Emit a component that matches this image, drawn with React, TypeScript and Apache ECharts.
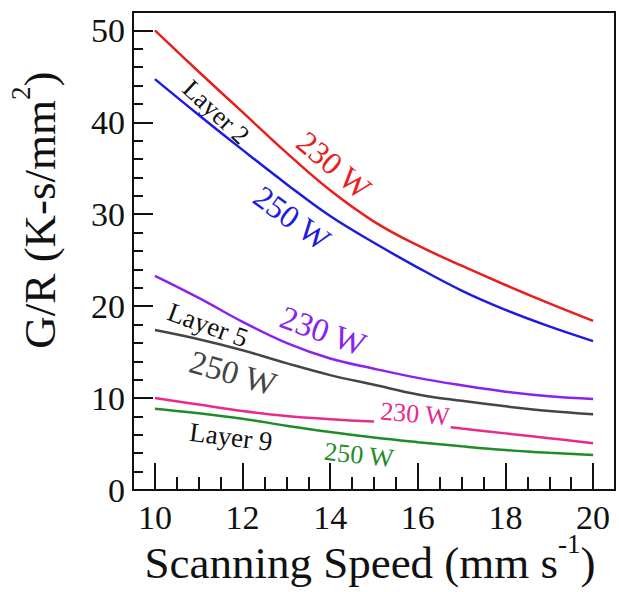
import React, { useEffect, useRef } from "react";
import * as echarts from "echarts";

const SPEED = [10, 11, 12, 13, 14, 15, 16, 17, 18, 19, 20];
const L2_230W = [50, 45.5, 41.1, 36.7, 32.6, 29.2, 26.6, 24.4, 22.3, 20.3, 18.4];
const L2_250W = [44.7, 40.8, 37.0, 33.3, 29.8, 26.9, 24.2, 21.7, 19.6, 17.8, 16.2];
const L5_230W = [23.3, 20.9, 18.3, 16.0, 14.3, 13.2, 12.2, 11.4, 10.7, 10.2, 9.9];
const L5_250W = [17.4, 16.4, 15.2, 13.8, 12.5, 11.45, 10.4, 9.7, 9.1, 8.6, 8.25];
const L9_250W = [8.85, 8.35, 7.75, 7.0, 6.3, 5.7, 5.2, 4.75, 4.35, 4.05, 3.82];
const L9_230W_A_X = [10, 11, 12, 13, 14, 15];
const L9_230W_A = [10.0, 9.3, 8.6, 8.05, 7.7, 7.45];
const L9_230W_B_X = [16.75, 17, 18, 19, 20];
const L9_230W_B = [6.83, 6.69, 6.16, 5.63, 5.09];

const X_MAJOR = [10, 12, 14, 16, 18, 20];
const X_MINOR = [9.5, 10.5, 11, 11.5, 12.5, 13, 13.5, 14.5, 15, 15.5, 16.5, 17, 17.5, 18.5, 19, 19.5, 20.5];
const Y_MAJOR = [0, 10, 20, 30, 40, 50];
const Y_MINOR = [2, 4, 6, 8, 12, 14, 16, 18, 22, 24, 26, 28, 32, 34, 36, 38, 42, 44, 46, 48];

const FONT = "Liberation Serif, Times New Roman, Times, serif";

const pair = (xs: number[], ys: number[]) => xs.map((x, i) => [x, ys[i]]);

export default function App() {
  const ref = useRef<HTMLDivElement>(null);
  useEffect(() => {
    if (!ref.current) return;
    const chart = echarts.init(ref.current, undefined, { renderer: "svg" });
    const line = (name: string, data: number[][], color: string) => ({
      name,
      type: "line",
      data,
      smooth: 0.4,
      symbol: "none",
      lineStyle: { color, width: 2.5 },
      xAxisIndex: 0,
      yAxisIndex: 0,
    });
    const label = (text: string, x: number, y: number, deg: number, size: number, color: string) => ({
      type: "text",
      x,
      y,
      rotation: (deg * Math.PI) / 180,
      style: {
        text,
        fill: color,
        fontFamily: FONT,
        fontSize: size,
        align: "center",
        verticalAlign: "middle",
      },
    });
    const baseX = {
      type: "value",
      min: 9.5,
      max: 20.5,
      splitLine: { show: false },
    };
    const baseY = {
      type: "value",
      min: 0,
      max: 52,
      splitLine: { show: false },
    };
    chart.setOption({
      animation: false,
      backgroundColor: "#fff",
      grid: {
        left: 133,
        right: 4,
        top: 12,
        bottom: 102,
        containLabel: false,
        outerBoundsMode: "none",
        show: true,
        borderColor: "#111",
        borderWidth: 2,
      },
      xAxis: [
        {
          ...baseX,
          axisLine: { show: true, lineStyle: { color: "#111", width: 2 } },
          axisTick: { show: true, inside: true, length: 27, customValues: X_MAJOR, lineStyle: { color: "#111", width: 2 } },
          axisLabel: { show: true, customValues: X_MAJOR, margin: 10, color: "#111", fontFamily: FONT, fontSize: 34 },
        },
        {
          ...baseX,
          position: "bottom",
          axisLine: { show: false },
          axisTick: { show: true, inside: true, length: 13, customValues: X_MINOR, lineStyle: { color: "#111", width: 2 } },
          axisLabel: { show: false },
        },
      ],
      yAxis: [
        {
          ...baseY,
          axisLine: { show: true, lineStyle: { color: "#111", width: 2 } },
          axisTick: { show: true, inside: true, length: 20, customValues: Y_MAJOR, lineStyle: { color: "#111", width: 2 } },
          axisLabel: { show: true, customValues: Y_MAJOR, margin: 8, color: "#111", fontFamily: FONT, fontSize: 34 },
        },
        {
          ...baseY,
          position: "left",
          axisLine: { show: false },
          axisTick: { show: true, inside: true, length: 10, customValues: Y_MINOR, lineStyle: { color: "#111", width: 2 } },
          axisLabel: { show: false },
        },
      ],
      series: [
        line("Layer 2 230 W", pair(SPEED, L2_230W), "#e8201c"),
        line("Layer 2 250 W", pair(SPEED, L2_250W), "#1c1ce0"),
        line("Layer 5 230 W", pair(SPEED, L5_230W), "#8a22f0"),
        line("Layer 5 250 W", pair(SPEED, L5_250W), "#454545"),
        line("Layer 9 230 W a", pair(L9_230W_A_X, L9_230W_A), "#e82a8c"),
        line("Layer 9 230 W b", pair(L9_230W_B_X, L9_230W_B), "#e82a8c"),
        line("Layer 9 250 W", pair(SPEED, L9_250W), "#1e8c28"),
      ],
      graphic: [
        {
          type: "text",
          x: 370,
          y: 563,
          style: {
            text: "{a|Scanning Speed (mm s}{b|-1}{a|)}",
            align: "center",
            verticalAlign: "middle",
            fill: "#111",
            rich: {
              a: { fontFamily: FONT, fontSize: 45, lineHeight: 66, fill: "#111" },
              b: { fontFamily: FONT, fontSize: 27, lineHeight: 27, verticalAlign: "top", fill: "#111" },
            },
          },
        },
        {
          type: "text",
          x: 40,
          y: 210,
          rotation: Math.PI / 2,
          style: {
            text: "{a|G/R (K-s/mm}{b|2}{a|)}",
            align: "center",
            verticalAlign: "middle",
            fill: "#111",
            rich: {
              a: { fontFamily: FONT, fontSize: 45, lineHeight: 66, fill: "#111" },
              b: { fontFamily: FONT, fontSize: 27, lineHeight: 27, verticalAlign: "top", fill: "#111" },
            },
          },
        },
        label("Layer 2", 216, 112, -43, 26, "#111"),
        label("230 W", 334, 165, -40, 32, "#e8201c"),
        label("250 W", 292, 218, -36, 32, "#1c1ce0"),
        label("Layer 5", 208, 325, -20, 27, "#111"),
        label("230 W", 323, 331, -20, 33, "#8a22f0"),
        label("250 W", 233, 373, -16, 33, "#454545"),
        label("230 W", 415, 414, -5, 26, "#e82a8c"),
        label("Layer 9", 231, 437, -7, 27, "#111"),
        label("250 W", 359, 455, -6, 26, "#1e8c28"),
      ],
    });
    return () => chart.dispose();
  }, []);
  return <div ref={ref} style={{ position: "absolute", left: 0, top: 0, width: 619, height: 592 }} />;
}
